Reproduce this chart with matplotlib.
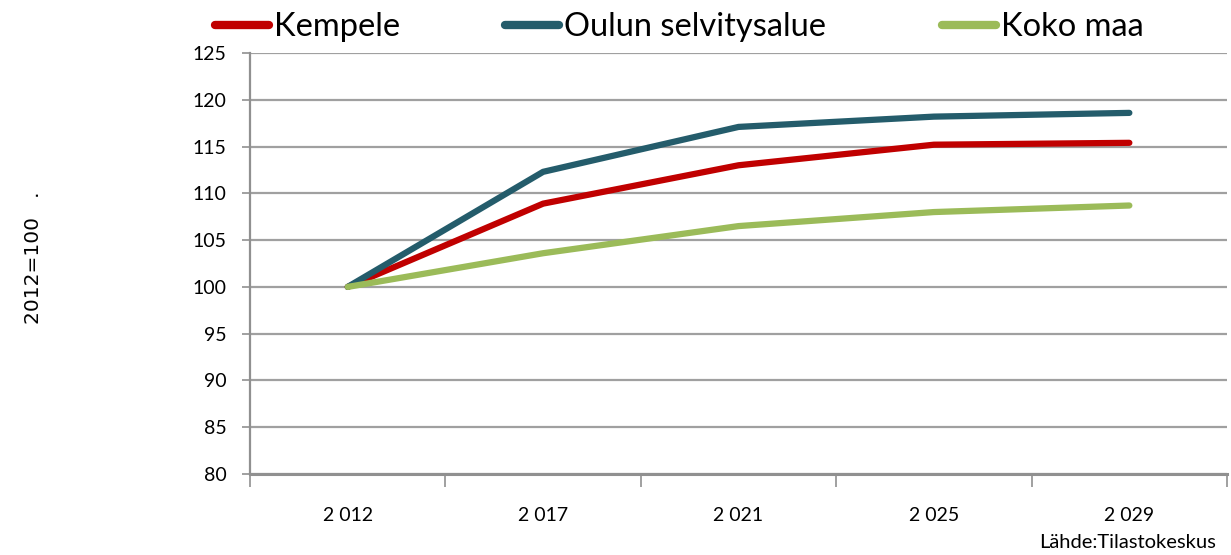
import matplotlib
matplotlib.use("Agg")
import matplotlib.pyplot as plt
from matplotlib.ticker import FixedLocator, NullFormatter
from matplotlib.lines import Line2D

years = ["2 012", "2 017", "2 021", "2 025", "2 029"]
kempele = [100, 108.9, 113.0, 115.2, 115.4]
oulu = [100, 112.3, 117.1, 118.2, 118.6]
koko_maa = [100, 103.6, 106.5, 108.0, 108.7]
series_names = ["Kempele", "Oulun selvitysalue", "Koko maa"]
colors = ["#C00000", "#245C6B", "#9BBB59"]
yticks = list(range(80, 126, 5))

plt.rcParams['font.family'] = ['Lato', 'DejaVu Sans']

fig = plt.figure(figsize=(12.31, 5.55), dpi=100)
ax = fig.add_axes([0.2031, 0.1459, 0.7937, 0.7586])

x = list(range(len(years)))
for vals, name, c in zip([kempele, oulu, koko_maa], series_names, colors):
    ax.plot(x, vals, color=c, lw=4.5, solid_capstyle='round', solid_joinstyle='round', label=name)

ax.set_ylim(80, 125)
ax.set_xlim(-0.5, len(years) - 0.5)
ax.set_yticks(yticks)
ax.set_yticklabels([str(v) for v in yticks], fontsize=14)
ax.yaxis.grid(True, color='#A0A0A0', lw=1.6)
ax.set_axisbelow(True)

ax.set_xticks(x)
ax.set_xticklabels(years, fontsize=14)
ax.tick_params(axis='x', which='major', length=0, pad=24)
ax.xaxis.set_minor_locator(FixedLocator([i - 0.5 for i in range(len(years) + 1)]))
ax.xaxis.set_minor_formatter(NullFormatter())
ax.tick_params(axis='x', which='minor', length=9, width=1.2, color='#909090', direction='out')
ax.tick_params(axis='y', length=6, width=1.2, color='#909090', direction='out', pad=11)

for s in ['top', 'right']:
    ax.spines[s].set_visible(False)
ax.spines['left'].set_color('#909090')
ax.spines['left'].set_linewidth(1.6)
ax.spines['bottom'].set_color('#909090')
ax.spines['bottom'].set_linewidth(2.2)

fig.text(0.027, 0.535, "2012=100   .", rotation=90, fontsize=14.5, ha='center', va='center',
         family=['DejaVu Sans'])

legend_x = [215, 505, 942]
for name, c, lx in zip(series_names, colors, legend_x):
    h = Line2D([], [], color=c, lw=6, solid_capstyle='round')
    fig.legend([h], [name], loc='center left', bbox_to_anchor=(lx / 1231, 1 - 27 / 555),
               frameon=False, fontsize=23.5, handlelength=1.65, handletextpad=0.15,
               borderpad=0, borderaxespad=0)

fig.text(0.988, 0.008, "Lähde:Tilastokeskus", fontsize=14.5, ha='right', va='bottom')

fig.savefig("out.png", dpi=100)
